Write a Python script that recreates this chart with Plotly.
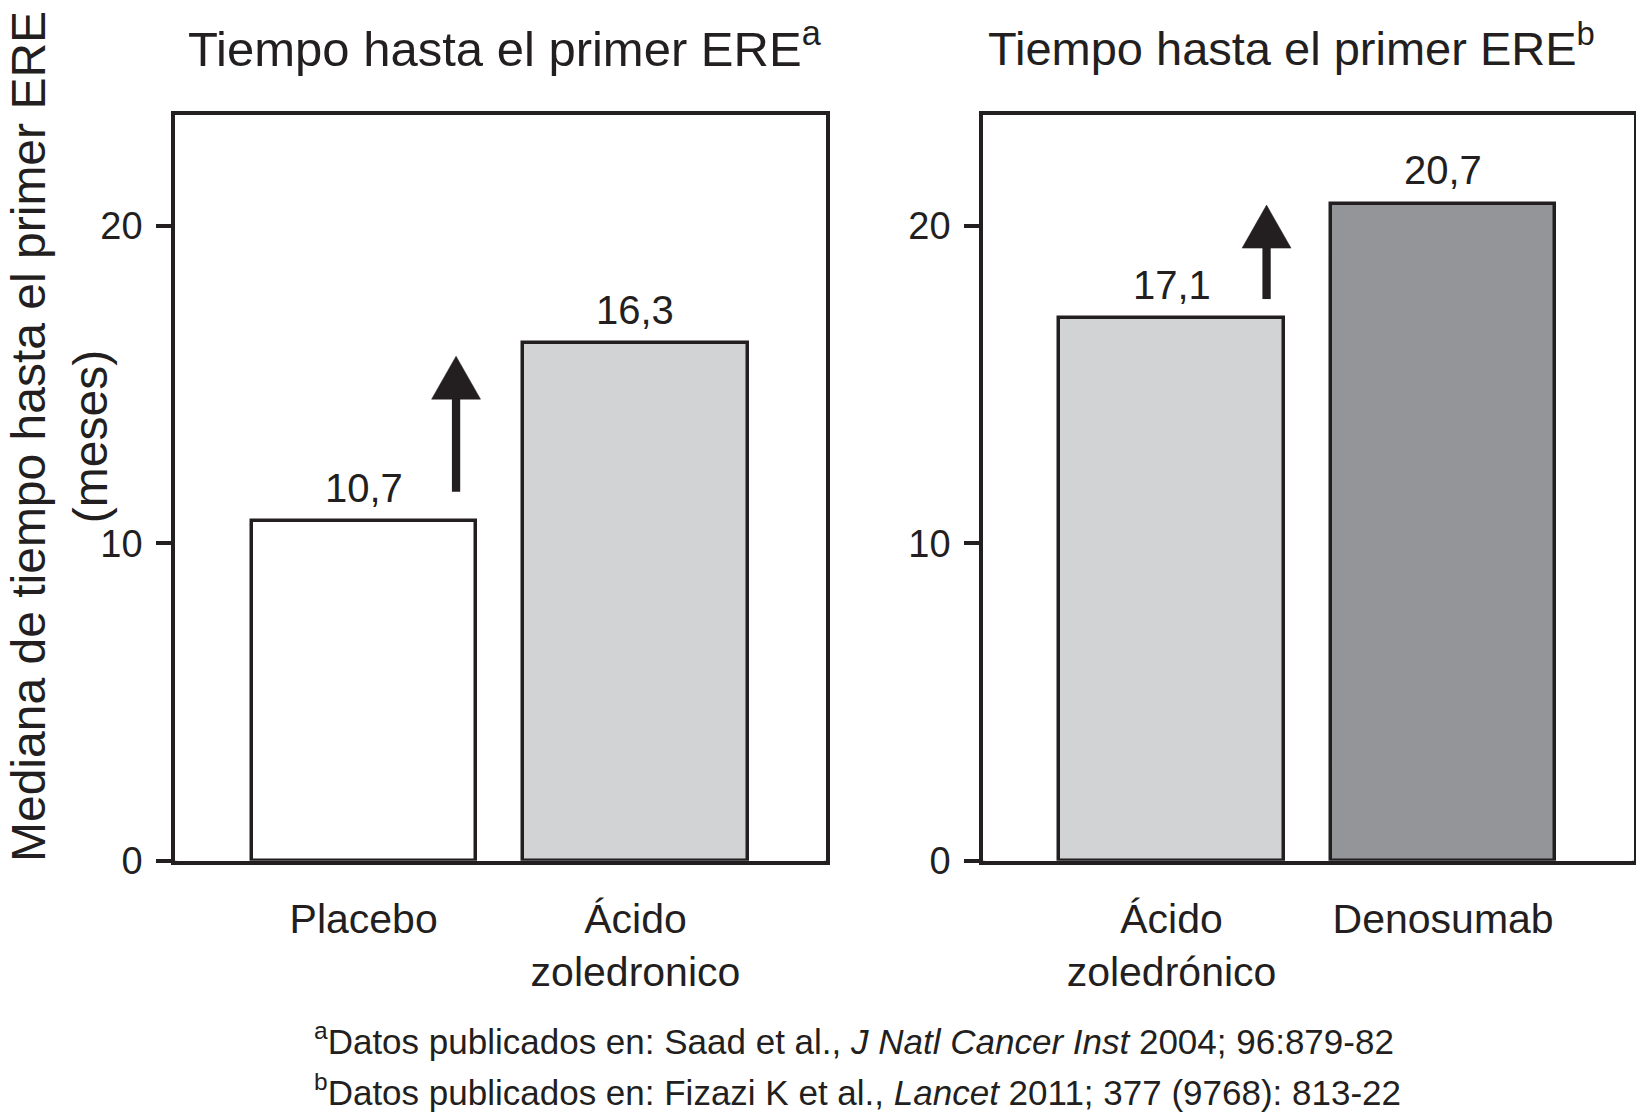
import plotly.graph_objects as go

# ---------------- data ----------------
left_categories = ["Placebo", "Ácido<br>zoledronico"]
left_values = [10.7, 16.3]
left_labels = ["10,7", "16,3"]

right_categories = ["Ácido<br>zoledrónico", "Denosumab"]
right_values = [17.1, 20.7]
right_labels = ["17,1", "20,7"]

left_title = "Tiempo hasta el primer ERE<sup>a</sup>"
right_title = "Tiempo hasta el primer ERE<sup>b</sup>"
y_title = "Mediana de tiempo hasta el primer ERE<br>(meses)"
y_ticks = [0, 10, 20]

# arrows: (x position in category units, start value, end value)
arrow_x = [0.34, 0.35]
arrow_from = [11.63, 17.7]
arrow_to = [15.9, 20.66]

footnotes = [
    "<sup>a</sup>Datos publicados en: Saad et al., <i>J Natl Cancer Inst</i> 2004; 96:879-82",
    "<sup>b</sup>Datos publicados en: Fizazi K et al., <i>Lancet</i> 2011; 377 (9768): 813-22",
]

# ---------------- style ----------------
W, H = 1636, 1114
INK = "#231f20"
FONT = "Liberation Sans, Arial, Helvetica, sans-serif"
left_colors = ["#ffffff", "#d1d3d4"]
right_colors = ["#d1d3d4", "#939598"]
LW = 3.5
BAR_W = 0.825
X_RANGE = [-0.694, 1.701]
Y_RANGE = [0, 23.5]


def px_x(p):
    return min(max(p / W, 0), 1)


def px_y(p):
    return min(max(1 - p / H, 0), 1)


fig = go.Figure()

panels = [
    ("x", "y", left_categories, left_values, left_labels, left_colors),
    ("x2", "y2", right_categories, right_values, right_labels, right_colors),
]

for xa, ya, cats, vals, labs, cols in panels:
    xs = list(range(len(cats)))
    fig.add_trace(go.Bar(
        x=xs, y=vals, xaxis=xa, yaxis=ya, width=BAR_W,
        marker=dict(color=cols, line=dict(color=INK, width=LW)),
        showlegend=False, hoverinfo="skip",
    ))
    for xi, v, t in zip(xs, vals, labs):
        fig.add_annotation(
            x=xi, y=v, xref=xa, yref=ya, text=t, showarrow=False,
            yanchor="bottom", xanchor="center", yshift=9.5,
            font=dict(size=40, color=INK, family=FONT),
        )

axis_common = dict(
    showline=True, linecolor=INK, linewidth=LW, mirror=True,
    showgrid=False, zeroline=False, automargin=False,
)
xtick_font = dict(size=41, color=INK, family=FONT)
ytick_font = dict(size=38, color=INK, family=FONT)
y_dom = [px_y(860.7), px_y(115)]

fig.update_layout(
    xaxis=dict(domain=[px_x(175), px_x(826)], range=X_RANGE,
               tickvals=list(range(len(left_categories))), ticktext=left_categories,
               ticks="", tickfont=xtick_font, ticklabelstandoff=19,
               anchor="y", **axis_common),
    yaxis=dict(domain=y_dom, range=Y_RANGE,
               tickvals=y_ticks, ticks="outside", ticklen=15, tickwidth=LW,
               tickcolor=INK, tickfont=ytick_font, ticklabelstandoff=6,
               anchor="x", **axis_common),
    xaxis2=dict(domain=[px_x(983), px_x(1633.5)], range=X_RANGE,
                tickvals=list(range(len(right_categories))), ticktext=right_categories,
                ticks="", tickfont=xtick_font, ticklabelstandoff=19,
                anchor="y2", **axis_common),
    yaxis2=dict(domain=y_dom, range=Y_RANGE,
                tickvals=y_ticks, ticks="outside", ticklen=15, tickwidth=LW,
                tickcolor=INK, tickfont=ytick_font, ticklabelstandoff=6,
                anchor="x2", **axis_common),
)

# x-axis end tick marks (box corners)
for xa, ya in [("x", "y"), ("x2", "y2")]:
    for xd in [0, 1]:
        fig.add_shape(type="line", xref=f"{xa} domain", yref=ya,
                      x0=xd, x1=xd, ysizemode="pixel", yanchor=0, y0=0, y1=-15,
                      line=dict(color=INK, width=LW))

# arrows
HEAD_HALF_W = 0.09
HEAD_LEN = 1.355
for (xa, ya), ax, a0, a1 in zip([("x", "y"), ("x2", "y2")], arrow_x, arrow_from, arrow_to):
    fig.add_shape(type="line", xref=xa, yref=ya, x0=ax, x1=ax, y0=a0, y1=a1 - HEAD_LEN + 0.1,
                  line=dict(color=INK, width=8.3))
    fig.add_shape(type="path", xref=xa, yref=ya,
                  path=f"M {ax - HEAD_HALF_W},{a1 - HEAD_LEN} L {ax + HEAD_HALF_W},{a1 - HEAD_LEN} L {ax},{a1} Z",
                  fillcolor=INK, line=dict(color=INK, width=0.5))

# panel titles
for cx, t, fs in [(504.5, left_title, 49), (1291, right_title, 47)]:
    fig.add_annotation(x=px_x(cx), xref="paper", y=px_y(45), yref="paper",
                       text=t, showarrow=False, xanchor="center", yanchor="middle",
                       font=dict(size=fs, color=INK, family=FONT))

# y-axis title (kept inside the page so it does not push margins)
fig.add_annotation(x=px_x(0.5), y=px_y(437), xref="paper", yref="paper",
                   text=y_title, textangle=-90, showarrow=False,
                   xanchor="left", yanchor="middle", borderpad=0,
                   font=dict(size=48, color=INK, family=FONT))

# footnotes (anchored by their bottom edge)
for yy, t in zip([1061.5, 1113], footnotes):
    fig.add_annotation(x=px_x(313), y=px_y(yy), xref="paper", yref="paper",
                       text=t, showarrow=False, xanchor="left", yanchor="bottom",
                       borderpad=0, font=dict(size=35, color=INK, family=FONT))

fig.update_layout(
    width=W, height=H, autosize=False,
    margin=dict(l=0, r=0, t=0, b=0, autoexpand=False),
    paper_bgcolor="white", plot_bgcolor="white",
    bargap=0,
)

fig.write_html(
    "out.html",
    config={"displayModeBar": False},
    post_script="document.body.style.margin='0px';document.body.style.overflow='hidden';",
)
